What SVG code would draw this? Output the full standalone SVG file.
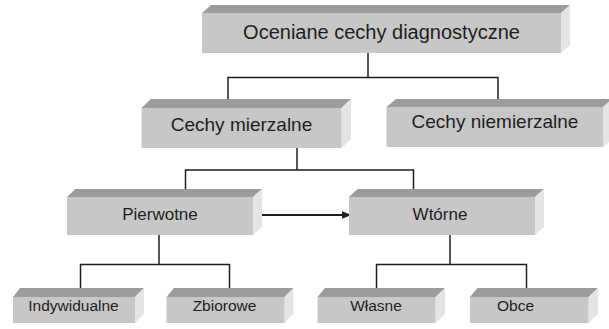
<svg xmlns="http://www.w3.org/2000/svg" width="609" height="329" viewBox="0 0 609 329">
<defs>
<style>
.front{fill:#c7c7c7}
.top{fill:#9c9c9c}
.side{fill:#e4e4e4}
.lbl{font-family:"Liberation Sans",Arial,sans-serif;fill:#1e1e1e;text-anchor:middle}
.ln{fill:none;stroke:#1e1e1e;stroke-width:1.5}
</style>
<marker id="ah" markerWidth="10" markerHeight="8" refX="9" refY="4" orient="auto" markerUnits="userSpaceOnUse">
<path d="M0,0 L10,4 L0,8 Z" fill="#1e1e1e"/>
</marker>
</defs>
<rect width="609" height="329" fill="#ffffff"/>
<g id="connectors">
<polyline class="ln" points="368,53 368,77.5"/>
<polyline class="ln" points="228,99 228,77.5 498,77.5 498,99"/>
<polyline class="ln" points="297,148 297,170"/>
<polyline class="ln" points="185.5,190 185.5,170 413.5,170 413.5,190"/>
<polyline class="ln" points="159,235 159,264.5"/>
<polyline class="ln" points="80.5,288 80.5,264.5 229.5,264.5 229.5,288"/>
<polyline class="ln" points="450,235 450,264.5"/>
<polyline class="ln" points="376.5,288 376.5,264.5 526.5,264.5 526.5,288"/>
<line x1="262" y1="215" x2="350.5" y2="215" stroke="#1e1e1e" stroke-width="2.2" marker-end="url(#ah)"/>
</g>
<g id="n-oceniane">
<polygon class="top" points="202,13 211,5 570,5 561,13"/>
<polygon class="side" points="561,13 570,5 570,45 561,53"/>
<rect class="front" x="202" y="13" width="359" height="40"/>
<text class="lbl" x="381.5" y="39" font-size="20">Oceniane cechy diagnostyczne</text>
</g>
<g id="n-mierzalne">
<polygon class="top" points="141.5,108 151,99 351,99 341.5,108"/>
<polygon class="side" points="341.5,108 351,99 351,139 341.5,148"/>
<rect class="front" x="141.5" y="108" width="200" height="40"/>
<text class="lbl" x="241.5" y="131" font-size="19">Cechy mierzalne</text>
</g>
<g id="n-niemierzalne">
<polygon class="top" points="386.5,107 396,99 612,99 603,107"/>
<polygon class="side" points="603,107 612,99 612,139 603,147"/>
<rect class="front" x="386.5" y="107" width="216.5" height="40"/>
<text class="lbl" x="495" y="128" font-size="19">Cechy niemierzalne</text>
</g>
<g id="n-pierwotne">
<polygon class="top" points="67,197 75.5,189 262,189 253,197"/>
<polygon class="side" points="253,197 262,189 262,227 253,235"/>
<rect class="front" x="67" y="197" width="186" height="38"/>
<text class="lbl" x="160" y="220" font-size="17">Pierwotne</text>
</g>
<g id="n-wtorne">
<polygon class="top" points="349,197 357.5,189 544,189 535,197"/>
<polygon class="side" points="535,197 544,189 544,227 535,235"/>
<rect class="front" x="349" y="197" width="186" height="38"/>
<text class="lbl" x="440" y="220" font-size="17">Wtórne</text>
</g>
<g id="n-indywidualne">
<polygon class="top" points="13,297 20,288 144,288 135,297"/>
<polygon class="side" points="135,297 144,288 144,314 135,323"/>
<rect class="front" x="13" y="297" width="122" height="26"/>
<text class="lbl" x="73.5" y="311" font-size="15.5">Indywidualne</text>
</g>
<g id="n-zbiorowe">
<polygon class="top" points="166.5,297 174,288 293.5,288 284.5,297"/>
<polygon class="side" points="284.5,297 293.5,288 293.5,314 284.5,323"/>
<rect class="front" x="166.5" y="297" width="118" height="26"/>
<text class="lbl" x="224.5" y="311" font-size="15.5">Zbiorowe</text>
</g>
<g id="n-wlasne">
<polygon class="top" points="317.5,297 325,288 445,288 435.5,297"/>
<polygon class="side" points="435.5,297 445,288 445,314 435.5,323"/>
<rect class="front" x="317.5" y="297" width="118" height="26"/>
<text class="lbl" x="376" y="311" font-size="15.5">Własne</text>
</g>
<g id="n-obce">
<polygon class="top" points="470,297 477.5,288 598,288 588.5,297"/>
<polygon class="side" points="588.5,297 598,288 598,314 588.5,323"/>
<rect class="front" x="470" y="297" width="118.5" height="26"/>
<text class="lbl" x="515.5" y="311" font-size="15.5">Obce</text>
</g>
</svg>
